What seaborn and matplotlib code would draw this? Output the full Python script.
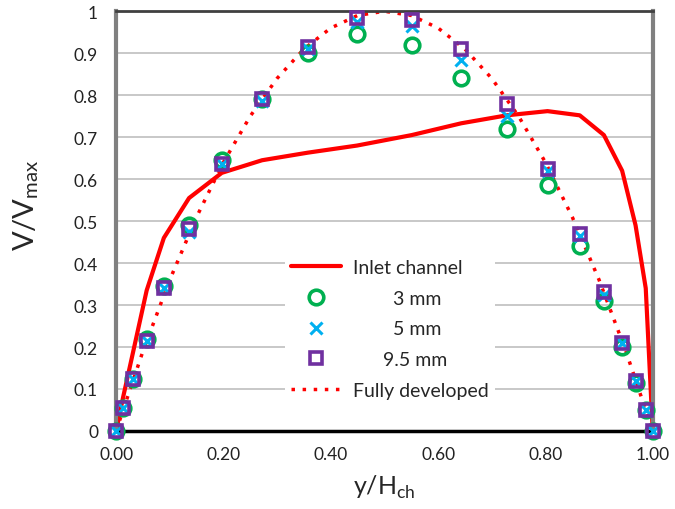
import matplotlib
matplotlib.use('Agg')
import matplotlib.pyplot as plt
import seaborn as sns

# positions across the channel (y/Hch)
y_pos = [0.0, 0.013, 0.032, 0.057, 0.089, 0.136, 0.197, 0.272, 0.357, 0.449,
         0.551, 0.643, 0.728, 0.804, 0.864, 0.909, 0.943, 0.968, 0.987, 1.0]

v_3mm = [0.0, 0.055, 0.125, 0.22, 0.345, 0.49, 0.645, 0.79, 0.9, 0.945,
         0.92, 0.84, 0.72, 0.585, 0.44, 0.31, 0.2, 0.115, 0.05, 0.0]
v_5mm = [0.0, 0.055, 0.125, 0.215, 0.34, 0.475, 0.635, 0.785, 0.91, 0.975,
         0.965, 0.885, 0.75, 0.62, 0.465, 0.325, 0.21, 0.12, 0.05, 0.0]
v_95mm = [0.0, 0.055, 0.125, 0.215, 0.34, 0.48, 0.635, 0.79, 0.915, 0.985,
          0.98, 0.91, 0.78, 0.625, 0.47, 0.33, 0.21, 0.12, 0.05, 0.0]

inlet_x = [0.0, 0.013, 0.032, 0.057, 0.089, 0.136, 0.197, 0.272, 0.357, 0.449,
           0.551, 0.643, 0.728, 0.804, 0.864, 0.909, 0.943, 0.968, 0.987, 1.0]
inlet_v = [0.0, 0.08, 0.19, 0.335, 0.46, 0.555, 0.615, 0.645, 0.663, 0.68,
           0.705, 0.733, 0.752, 0.762, 0.752, 0.705, 0.62, 0.49, 0.34, 0.0]

full_x = [0.0, 0.05, 0.10, 0.15, 0.20, 0.25, 0.30, 0.35, 0.40, 0.45, 0.50,
          0.55, 0.60, 0.65, 0.70, 0.75, 0.80, 0.85, 0.90, 0.95, 1.0]
full_v = [0.0, 0.19, 0.36, 0.51, 0.64, 0.75, 0.84, 0.91, 0.96, 0.99, 1.0,
          0.99, 0.96, 0.91, 0.84, 0.75, 0.64, 0.51, 0.36, 0.19, 0.0]

x_ticks = [0.0, 0.2, 0.4, 0.6, 0.8, 1.0]
x_tick_labels = ['0.00', '0.20', '0.40', '0.60', '0.80', '1.00']
y_ticks = [0, 0.1, 0.2, 0.3, 0.4, 0.5, 0.6, 0.7, 0.8, 0.9, 1.0]
y_tick_labels = ['0', '0.1', '0.2', '0.3', '0.4', '0.5', '0.6', '0.7', '0.8', '0.9', '1']

sns.set_style('white')
plt.rcParams['font.family'] = ['Lato', 'DejaVu Sans']

fig = plt.figure(figsize=(6.75, 5.1), dpi=100)
ax = fig.add_axes([0.172, 0.153, 0.795, 0.823])

for yv in y_ticks[1:]:
    ax.axhline(yv, color='#bfbfbf', lw=1.2, zorder=0)

sns.lineplot(x=inlet_x, y=inlet_v, ax=ax, color='#ff0000', lw=3, sort=False,
             label='Inlet channel', zorder=2)
sns.lineplot(x=full_x, y=full_v, ax=ax, color='#ff0000', lw=2.5, sort=False,
             linestyle=(0, (1, 2.2)), label='Fully developed', zorder=2)

ax.plot(y_pos, v_3mm, ls='none', marker='o', ms=10.5, mfc='none', mec='#00b050',
        mew=2.6, label='3 mm', zorder=3, clip_on=False)
ax.plot(y_pos, v_5mm, ls='none', marker='x', ms=8, mec='#00b0f0',
        mew=2.2, label='5 mm', zorder=4, clip_on=False)
ax.plot(y_pos, v_95mm, ls='none', marker='s', ms=8, mfc='none', mec='#7030a0',
        mew=2.6, label='9.5 mm', zorder=5, clip_on=False)

ax.set_xlim(0, 1)
ax.set_ylim(0, 1)
ax.set_xticks(x_ticks)
ax.set_xticklabels(x_tick_labels)
ax.set_yticks(y_ticks)
ax.set_yticklabels(y_tick_labels)
ax.tick_params(axis='both', labelsize=12.5, length=0, colors='#222222')
ax.tick_params(axis='x', pad=11)
ax.tick_params(axis='y', pad=13)

ax.set_xlabel('y/H$_{\\mathregular{ch}}$', fontsize=18)
ax.set_ylabel('V/V$_{\\mathregular{max}}$', fontsize=21)
ax.xaxis.set_label_coords(0.5, -0.1)
ax.yaxis.set_label_coords(-0.14, 0.54)

ax.spines['left'].set_color('#808080')
ax.spines['left'].set_linewidth(3)
ax.spines['right'].set_color('#808080')
ax.spines['right'].set_linewidth(3)
ax.spines['top'].set_color('#404040')
ax.spines['top'].set_linewidth(2)
ax.spines['bottom'].set_color('black')
ax.spines['bottom'].set_linewidth(2.5)

handles, labels = ax.get_legend_handles_labels()
order = ['Inlet channel', '3 mm', '5 mm', '9.5 mm', 'Fully developed']
hmap = dict(zip(labels, handles))
shown = ['Inlet channel', '        3 mm', '        5 mm', '      9.5 mm', 'Fully developed']
leg = ax.legend([hmap[k] for k in order], shown, loc='center',
                bbox_to_anchor=(0.51, 0.243), frameon=True, fontsize=14,
                handlelength=2.6, handletextpad=0.6, labelspacing=0.7,
                borderpad=0.3)
leg.get_frame().set_facecolor('white')
leg.get_frame().set_edgecolor('none')
leg.get_frame().set_alpha(1)
leg.set_zorder(10)

fig.savefig('out.png', dpi=100)
